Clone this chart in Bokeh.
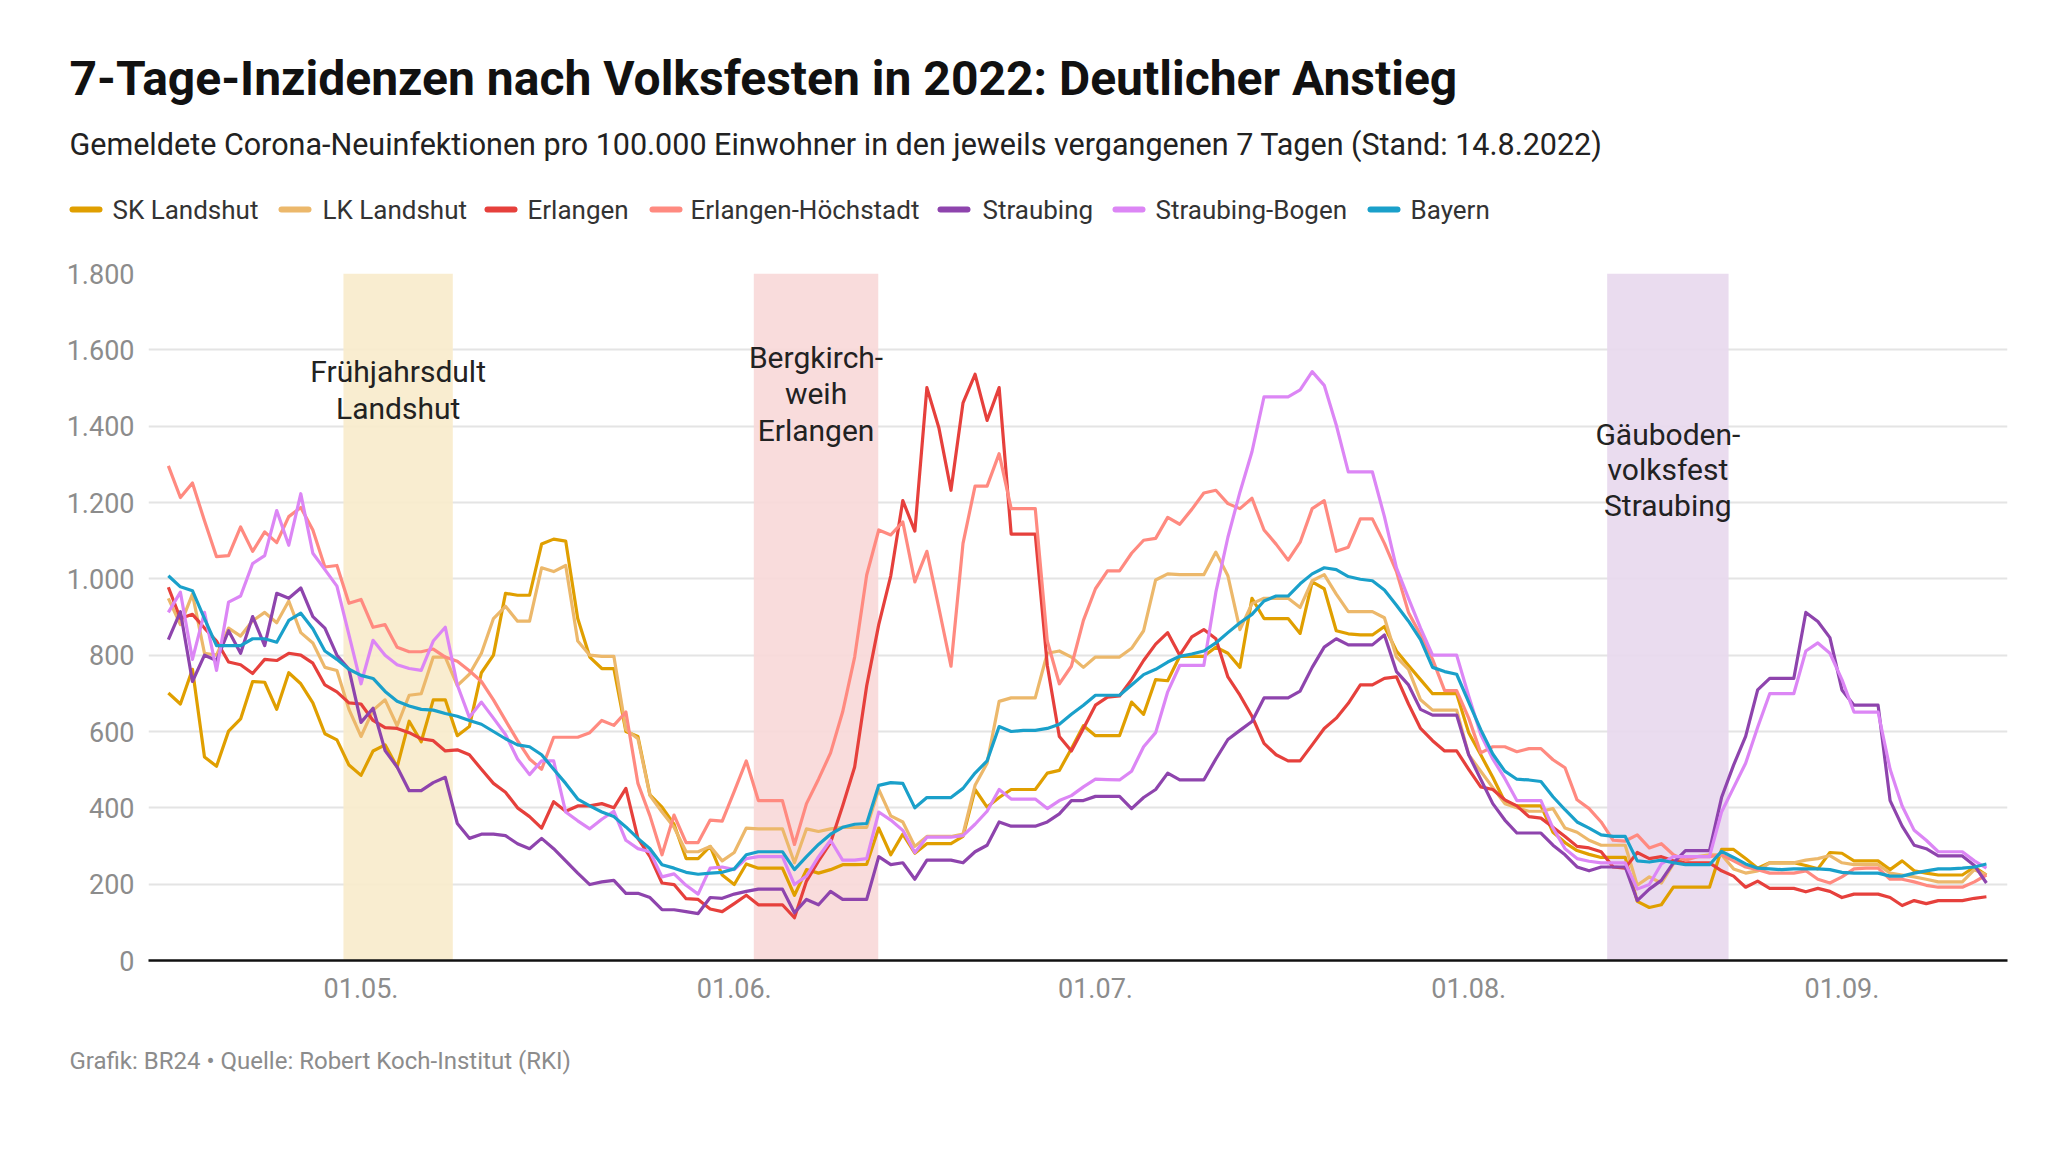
import pandas as pd
from bokeh.plotting import figure
from bokeh.layouts import column
from bokeh.models import (Range1d, FixedTicker, DatetimeTickFormatter, BoxAnnotation, Label)
from bokeh.embed import file_html
from bokeh.resources import INLINE

# ---------------- data ----------------
start_date = "2022-04-15"
n_days = 152
dates = pd.date_range(start_date, periods=n_days, freq="D")

series_names = ["SK Landshut", "LK Landshut", "Erlangen", "Erlangen-Höchstadt",
                "Straubing", "Straubing-Bogen", "Bayern"]
series_colors = ["#e09f00", "#ecb86b", "#e6403c", "#ff8a80",
                 "#8e44ad", "#dc86f5", "#1aa0ca"]

sk_landshut = [
    701, 672, 763, 533, 509, 601, 633, 731, 729, 658, 754, 725, 675, 594, 578, 512, 485, 549, 565,
    507, 627, 573, 683, 683, 589, 613, 754, 800, 962, 957, 957, 1091, 1104, 1099, 896, 795, 765, 765,
    600, 587, 434, 402, 357, 267, 267, 299, 224, 199, 253, 242, 242, 242, 171, 238, 229, 238, 251, 251,
    252, 347, 277, 331, 281, 306, 306, 306, 325, 448, 402, 427, 448, 448, 448, 491, 498, 555, 615, 589,
    589, 589, 677, 645, 736, 733, 797, 797, 797, 821, 805, 768, 949, 896, 896, 896, 857, 992, 974, 864,
    856, 853, 853, 875, 811, 773, 736, 699, 699, 699, 597, 539, 480, 416, 405, 405, 405, 336, 309, 288,
    278, 270, 270, 270, 155, 139, 146, 192, 192, 192, 192, 291, 291, 267, 242, 256, 256, 256, 249, 240,
    283, 281, 261, 261, 261, 238, 261, 235, 229, 224, 224, 224, 245, 224]

lk_landshut = [
    949, 880, 960, 805, 800, 871, 850, 890, 912, 885, 942, 859, 832, 768, 760, 658, 587, 656, 683,
    615, 695, 699, 795, 795, 720, 750, 805, 896, 928, 889, 889, 1029, 1019, 1035, 837, 800, 797, 797,
    605, 581, 432, 389, 349, 285, 285, 299, 261, 283, 347, 345, 345, 345, 256, 345, 338, 345, 349, 349,
    349, 448, 379, 363, 299, 325, 325, 325, 331, 459, 517, 679, 688, 688, 688, 805, 811, 795, 768, 795,
    795, 795, 818, 864, 997, 1013, 1011, 1011, 1011, 1070, 1008, 867, 935, 949, 949, 949, 925, 995, 1011, 960,
    914, 914, 914, 898, 795, 763, 683, 656, 656, 656, 539, 496, 453, 411, 400, 391, 391, 398, 347, 336,
    315, 302, 302, 302, 197, 219, 203, 253, 272, 272, 277, 277, 240, 229, 235, 256, 256, 256, 263, 267,
    275, 256, 251, 251, 251, 229, 224, 219, 213, 206, 206, 206, 238, 224]

erlangen = [
    978, 896, 907, 871, 837, 782, 775, 752, 789, 786, 805, 800, 779, 722, 704, 675, 672, 629, 610,
    608, 597, 581, 576, 549, 552, 539, 501, 464, 441, 400, 377, 347, 416, 391, 405, 405, 411, 400,
    451, 320, 272, 203, 199, 162, 160, 135, 128, 149, 171, 146, 146, 146, 112, 208, 261, 309, 405, 507,
    720, 880, 1008, 1205, 1125, 1501, 1395, 1232, 1461, 1536, 1415, 1501, 1117, 1117, 1117, 773, 587, 549, 608, 669,
    690, 693, 736, 786, 829, 859, 800, 848, 867, 843, 743, 695, 640, 569, 539, 523, 523, 565, 608, 635,
    674, 722, 722, 739, 743, 672, 608, 576, 549, 549, 501, 455, 448, 421, 405, 377, 373, 349, 325, 299,
    295, 285, 245, 242, 283, 267, 272, 261, 256, 256, 256, 235, 221, 192, 208, 189, 189, 189, 180, 189,
    181, 165, 174, 174, 174, 165, 144, 157, 149, 157, 157, 157, 163, 167]

erlangen_hoechstadt = [
    1296, 1213, 1251, 1152, 1058, 1061, 1136, 1072, 1123, 1095, 1163, 1187, 1128, 1031, 1035, 936, 946, 873, 880,
    821, 809, 809, 816, 795, 784, 759, 731, 683, 629, 576, 528, 501, 585, 585, 585, 597, 629, 616,
    651, 464, 379, 277, 381, 309, 309, 368, 365, 443, 523, 419, 419, 419, 304, 411, 475, 544, 651, 795,
    1010, 1128, 1115, 1149, 992, 1072, 923, 771, 1093, 1243, 1243, 1328, 1184, 1184, 1184, 837, 725, 771, 891, 974,
    1021, 1021, 1067, 1101, 1106, 1161, 1143, 1182, 1225, 1232, 1197, 1184, 1211, 1128, 1091, 1049, 1096, 1184, 1205, 1072,
    1083, 1157, 1157, 1093, 1019, 912, 853, 789, 707, 707, 635, 544, 560, 560, 547, 555, 555, 526, 505, 421,
    398, 363, 315, 313, 329, 295, 306, 277, 263, 272, 272, 277, 261, 245, 238, 229, 229, 229, 235, 213,
    203, 219, 240, 242, 242, 213, 213, 206, 197, 192, 192, 192, 206, 224]

straubing = [
    841, 914, 731, 800, 786, 864, 805, 901, 825, 962, 949, 976, 901, 871, 800, 763, 624, 661, 550,
    507, 445, 445, 466, 480, 359, 320, 331, 331, 327, 306, 293, 320, 293, 261, 229, 199, 206, 210,
    176, 176, 165, 133, 133, 128, 123, 165, 163, 174, 181, 187, 187, 187, 125, 160, 146, 181, 160, 160,
    160, 272, 251, 256, 213, 263, 263, 263, 256, 285, 302, 363, 352, 352, 352, 363, 384, 419, 419, 430,
    430, 430, 398, 427, 448, 491, 473, 473, 473, 528, 579, 603, 626, 688, 688, 688, 706, 768, 821, 843,
    827, 827, 827, 853, 757, 722, 658, 643, 643, 643, 539, 475, 411, 368, 334, 334, 334, 302, 277, 245,
    235, 245, 245, 245, 157, 187, 210, 256, 288, 288, 288, 427, 512, 587, 709, 739, 739, 739, 912, 888,
    846, 709, 669, 669, 669, 419, 352, 302, 293, 274, 274, 274, 249, 203]

straubing_bogen = [
    912, 965, 789, 912, 760, 939, 955, 1040, 1061, 1179, 1088, 1223, 1067, 1024, 981, 853, 725, 839, 800,
    775, 765, 760, 837, 873, 722, 637, 677, 635, 592, 528, 487, 523, 523, 389, 366, 345, 370, 391,
    315, 293, 285, 219, 227, 197, 174, 242, 245, 238, 267, 272, 272, 272, 199, 221, 272, 315, 263, 263,
    267, 389, 368, 341, 283, 323, 323, 323, 327, 357, 391, 448, 423, 423, 423, 398, 419, 432, 455, 475,
    474, 473, 496, 560, 597, 704, 773, 773, 773, 965, 1109, 1227, 1333, 1477, 1477, 1477, 1495, 1543, 1507, 1403,
    1280, 1280, 1280, 1163, 1029, 949, 871, 800, 800, 800, 693, 592, 528, 477, 419, 419, 419, 347, 293, 267,
    260, 256, 256, 256, 187, 199, 253, 272, 272, 272, 272, 389, 453, 517, 611, 699, 699, 699, 811, 832,
    805, 736, 651, 651, 651, 501, 405, 341, 315, 285, 285, 285, 261, 242]

bayern = [
    1008, 979, 969, 896, 825, 825, 825, 843, 843, 834, 891, 910, 869, 811, 789, 763, 747, 739, 705,
    679, 667, 658, 656, 647, 640, 629, 619, 600, 581, 565, 560, 539, 501, 464, 423, 405, 389, 377,
    350, 320, 293, 251, 242, 231, 226, 229, 231, 240, 277, 285, 285, 285, 238, 272, 304, 331, 349, 357,
    359, 459, 466, 464, 400, 427, 427, 427, 451, 491, 523, 613, 600, 603, 603, 608, 619, 645, 669, 695,
    695, 695, 722, 749, 763, 782, 797, 803, 811, 832, 859, 885, 907, 942, 955, 955, 987, 1013, 1029, 1024,
    1006, 999, 995, 971, 931, 889, 841, 768, 757, 750, 677, 605, 541, 496, 475, 473, 469, 429, 395, 363,
    347, 329, 325, 325, 261, 258, 263, 256, 251, 251, 251, 286, 270, 253, 242, 240, 238, 240, 240, 240,
    238, 231, 229, 229, 229, 221, 221, 229, 235, 240, 240, 242, 245, 253]

series_values = [sk_landshut, lk_landshut, erlangen, erlangen_hoechstadt,
                 straubing, straubing_bogen, bayern]

# festivals (shaded periods)
fest_starts = ["2022-04-29 13:00", "2022-06-02 15:00", "2022-08-12 12:00"]
fest_ends = ["2022-05-08 15:00", "2022-06-12 23:00", "2022-08-22 14:00"]
fest_labels = [["Frühjahrsdult", "Landshut"],
               ["Bergkirch-", "weih", "Erlangen"],
               ["Gäuboden-", "volksfest", "Straubing"]]
fest_colors = ["#f9ebcc", "#f9d9d9", "#e8d9ee"]

y_ticks = [0, 200, 400, 600, 800, 1000, 1200, 1400, 1600, 1800]
y_tick_labels = ["0", "200", "400", "600", "800", "1.000", "1.200", "1.400", "1.600", "1.800"]
x_tick_dates = ["2022-05-01", "2022-06-01", "2022-07-01", "2022-08-01", "2022-09-01"]

title_text = "7-Tage-Inzidenzen nach Volksfesten in 2022: Deutlicher Anstieg"
subtitle_text = ("Gemeldete Corona-Neuinfektionen pro 100.000 Einwohner in den jeweils "
                 "vergangenen 7 Tagen (Stand: 14.8.2022)")
footer_text = "Grafik: BR24 • Quelle: Robert Koch-Institut (RKI)"


def ms(s):
    return pd.Timestamp(s).value / 1e6


FONT = "Roboto"
W = 2040
HEAD_H = 253
FOOT_H = 100


def blank_fig(h):
    f = figure(width=W, height=h, output_backend="svg", toolbar_location=None,
               x_range=Range1d(0, W), y_range=Range1d(h, 0),
               min_border_left=0, min_border_right=0, min_border_top=0, min_border_bottom=0,
               x_axis_location=None, y_axis_location=None)
    f.outline_line_color = None
    f.xgrid.visible = False
    f.ygrid.visible = False
    f.background_fill_color = "white"
    f.border_fill_color = "white"
    f.frame_align = False
    return f


# ---------------- header ----------------
head = blank_fig(HEAD_H)
head.add_layout(Label(x=69, y=78, text=title_text, text_font=FONT, text_font_style="bold",
                      text_font_size="48px", text_color="#111111", text_baseline="middle"))
head.add_layout(Label(x=69, y=144, text=subtitle_text, text_font=FONT,
                      text_font_size="30.5px", text_color="#222222", text_baseline="middle"))
swatch_x = [69, 278, 484, 649, 937, 1112, 1367]
label_x = [112, 322, 527, 690, 982, 1155, 1410]
legend_y = 209
for name, col, sx, lx in zip(series_names, series_colors, swatch_x, label_x):
    head.segment(x0=sx + 3, y0=legend_y, x1=sx + 30, y1=legend_y, line_color=col,
                 line_width=6, line_cap="round")
    head.add_layout(Label(x=lx, y=legend_y, text=name, text_font=FONT, text_font_size="26px",
                          text_color="#333333", text_baseline="middle"))

# ---------------- main chart ----------------
p = figure(width=W, height=20 + 687 + 60, output_backend="svg", toolbar_location=None,
           x_axis_type="datetime",
           x_range=Range1d(ms("2022-04-13 08:24"), ms("2022-09-14 18:00")),
           y_range=Range1d(0, 1800),
           min_border_left=148, min_border_right=W - 2007,
           min_border_top=20, min_border_bottom=60)
p.outline_line_color = None
p.background_fill_color = "white"
p.border_fill_color = "white"
p.frame_align = False

for s, e, c in zip(fest_starts, fest_ends, fest_colors):
    p.add_layout(BoxAnnotation(left=ms(s), right=ms(e), fill_color=c, fill_alpha=0.92,
                               line_color=None, level="underlay"))

p.xgrid.grid_line_color = None
p.ygrid.grid_line_color = "#e4e4e4"
p.ygrid.grid_line_width = 2

p.yaxis.ticker = FixedTicker(ticks=y_ticks)
p.yaxis.major_label_overrides = {t: l for t, l in zip(y_ticks, y_tick_labels)}
p.yaxis.axis_line_color = None
p.yaxis.major_tick_line_color = None
p.yaxis.minor_tick_line_color = None
p.yaxis.major_tick_out = 0
p.yaxis.major_tick_in = 0
p.yaxis.major_label_standoff = 14
p.yaxis.major_label_text_font = FONT
p.yaxis.major_label_text_font_size = "27px"
p.yaxis.major_label_text_color = "#8c8c8c"

p.xaxis.ticker = FixedTicker(ticks=[ms(d) for d in x_tick_dates])
fmt = "%d.%m."
p.xaxis.formatter = DatetimeTickFormatter(days=fmt, months=fmt, years=fmt, hours=fmt,
                                          hourmin=fmt, minutes=fmt, minsec=fmt,
                                          seconds=fmt, milliseconds=fmt, microseconds=fmt)
p.xaxis.axis_line_color = "#111111"
p.xaxis.axis_line_width = 2.5
p.xaxis.major_tick_line_color = None
p.xaxis.minor_tick_line_color = None
p.xaxis.major_tick_out = 0
p.xaxis.major_tick_in = 0
p.xaxis.major_label_standoff = 17
p.xaxis.major_label_text_font = FONT
p.xaxis.major_label_text_font_size = "27px"
p.xaxis.major_label_text_color = "#8c8c8c"

for vals, col in zip(series_values, series_colors):
    p.line(x=dates, y=vals, line_color=col, line_width=3.2, line_join="round")

# festival labels (screen y measured from the bottom of the plot area)
line_ys = [[589, 552], [603, 567, 530], [526, 491, 455]]
for s, e, lines, ys in zip(fest_starts, fest_ends, fest_labels, line_ys):
    cx = (ms(s) + ms(e)) / 2
    for t, yy in zip(lines, ys):
        p.add_layout(Label(x=cx, y=yy, x_units="data", y_units="screen", text=t,
                           text_align="center", text_baseline="middle",
                           text_font=FONT, text_font_size="30px", text_color="#222222"))

# ---------------- footer ----------------
foot = blank_fig(FOOT_H)
foot.add_layout(Label(x=69, y=40, text=footer_text, text_font=FONT, text_font_size="24px",
                      text_color="#8c8c8c", text_baseline="middle"))

layout = column(head, p, foot, spacing=0)
open("out.html", "w").write(file_html(layout, INLINE))
